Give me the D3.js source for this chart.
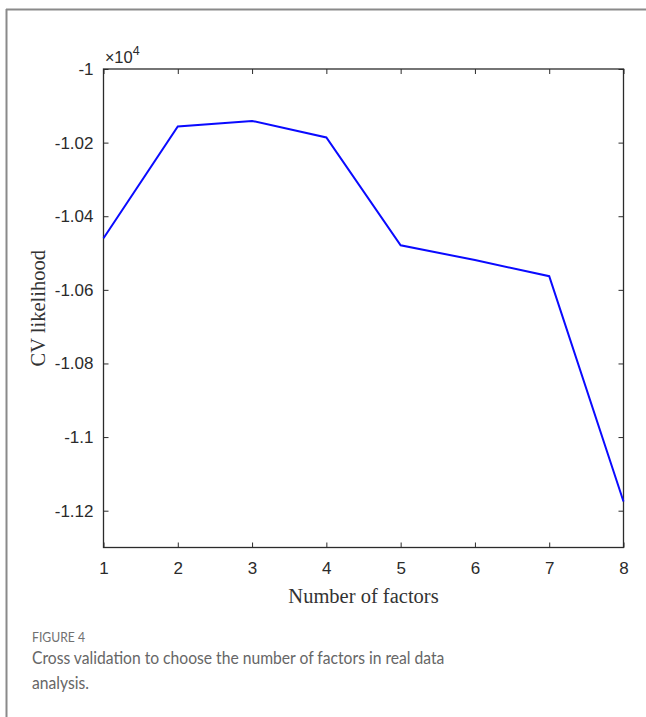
<!DOCTYPE html>
<html>
<head>
<meta charset="utf-8">
<script src="https://cdn.jsdelivr.net/npm/d3@7/dist/d3.min.js"></script>
<style>
  html, body { margin: 0; padding: 0; background: #fff; }
  svg { display: block; }
</style>
</head>
<body>
<svg id="fig" width="646" height="717"></svg>
<script>
// Number of factors and cross-validated log-likelihood (in units of 10^4)
const factors = [1, 2, 3, 4, 5, 6, 7, 8];
const cvLikelihood = [-1.0460, -1.0156, -1.0141, -1.0186, -1.0479, -1.0519, -1.0563, -1.1175];
const yTicks = [-1.12, -1.1, -1.08, -1.06, -1.04, -1.02, -1];
const yTickLabels = ["-1.12", "-1.1", "-1.08", "-1.06", "-1.04", "-1.02", "-1"];
const xTicks = [1, 2, 3, 4, 5, 6, 7, 8];

const svg = d3.select("#fig");

// Panel frame (top and left rules)
svg.append("line").attr("x1", 6).attr("x2", 646).attr("y1", 9.5).attr("y2", 9.5)
  .attr("stroke", "#8a8a8a").attr("stroke-width", 2);
svg.append("line").attr("x1", 6.5).attr("x2", 6.5).attr("y1", 9).attr("y2", 717)
  .attr("stroke", "#8a8a8a").attr("stroke-width", 2);

const plot = { left: 103.5, right: 623.5, top: 69, bottom: 547.5 };

const x = d3.scaleLinear().domain([1, 8]).range([plot.left, plot.right]);
const y = d3.scaleLinear().domain([-1.13, -1]).range([plot.bottom, plot.top]);

const tickFont = "'Liberation Sans', Arial, sans-serif";
const labelFont = "'Liberation Serif', 'Times New Roman', serif";
const ink = "#2b2b2b";

// Axes: ticks point inward, MATLAB-style box
const xAxisBottom = d3.axisBottom(x).tickValues(xTicks).tickFormat(d3.format("d"))
  .tickSizeInner(-5).tickSizeOuter(0).tickPadding(14);
const xAxisTop = d3.axisTop(x).tickValues(xTicks).tickSizeInner(-5).tickSizeOuter(0).tickFormat("");
const yAxisLeft = d3.axisLeft(y).tickValues(yTicks).tickSizeInner(-5).tickSizeOuter(0).tickPadding(10)
  .tickFormat((d, i) => yTickLabels[i]);
const yAxisRight = d3.axisRight(y).tickValues(yTicks).tickSizeInner(-5).tickSizeOuter(0).tickFormat("");

function styleAxis(g) {
  g.select(".domain").remove();
  g.attr("font-size", null).attr("font-family", null);
  g.selectAll(".tick line").attr("stroke", ink).attr("stroke-width", 1);
  g.selectAll(".tick text").attr("fill", ink)
    .attr("font-family", tickFont).attr("font-size", 17);
}

svg.append("g").attr("transform", `translate(0,${plot.bottom})`).call(xAxisBottom).call(styleAxis);
svg.append("g").attr("transform", `translate(0,${plot.top})`).call(xAxisTop).call(styleAxis);
svg.append("g").attr("transform", `translate(${plot.left},0)`).call(yAxisLeft).call(styleAxis);
svg.append("g").attr("transform", `translate(${plot.right},0)`).call(yAxisRight).call(styleAxis);

// Box outline
svg.append("rect")
  .attr("x", plot.left).attr("y", plot.top)
  .attr("width", plot.right - plot.left).attr("height", plot.bottom - plot.top)
  .attr("fill", "none").attr("stroke", ink).attr("stroke-width", 1.3);

// Exponent marker
const expo = svg.append("text").attr("x", 105).attr("y", 63)
  .attr("fill", ink).attr("font-family", tickFont).attr("font-size", 16.5);
expo.append("tspan").attr("font-size", 16).text("\u00d7");
expo.append("tspan").text("10");
expo.append("tspan").attr("dy", -8).attr("font-size", 12.5).text("4");

// Series line
const line = d3.line().x((d, i) => x(factors[i])).y(d => y(d));
svg.append("path").datum(cvLikelihood)
  .attr("d", line)
  .attr("fill", "none").attr("stroke", "#0a0aff").attr("stroke-width", 2)
  .attr("stroke-linejoin", "miter");

// Axis titles
svg.append("text").attr("x", (plot.left + plot.right) / 2).attr("y", 603)
  .attr("text-anchor", "middle").attr("fill", "#333")
  .attr("font-family", labelFont).attr("font-size", 20.5).text("Number of factors");
svg.append("text")
  .attr("transform", `translate(45,${(plot.top + plot.bottom) / 2}) rotate(-90)`)
  .attr("text-anchor", "middle").attr("fill", "#333")
  .attr("font-family", labelFont).attr("font-size", 20.5).text("CV likelihood");

// Caption (slightly condensed sans)
const capFont = "Lato, 'Open Sans', sans-serif";
const cap = svg.append("g").attr("transform", "translate(32,0) scale(0.87,1)");
cap.append("text").attr("x", 0).attr("y", 642).attr("fill", "#707070")
  .attr("font-family", capFont).attr("font-size", 14).text("FIGURE 4");
cap.append("text").attr("x", 0).attr("y", 664).attr("fill", "#666")
  .attr("font-family", capFont).attr("font-size", 18)
  .text("Cross validation to choose the number of factors in real data");
cap.append("text").attr("x", 0).attr("y", 689).attr("fill", "#666")
  .attr("font-family", capFont).attr("font-size", 18).text("analysis.");
</script>
</body>
</html>
